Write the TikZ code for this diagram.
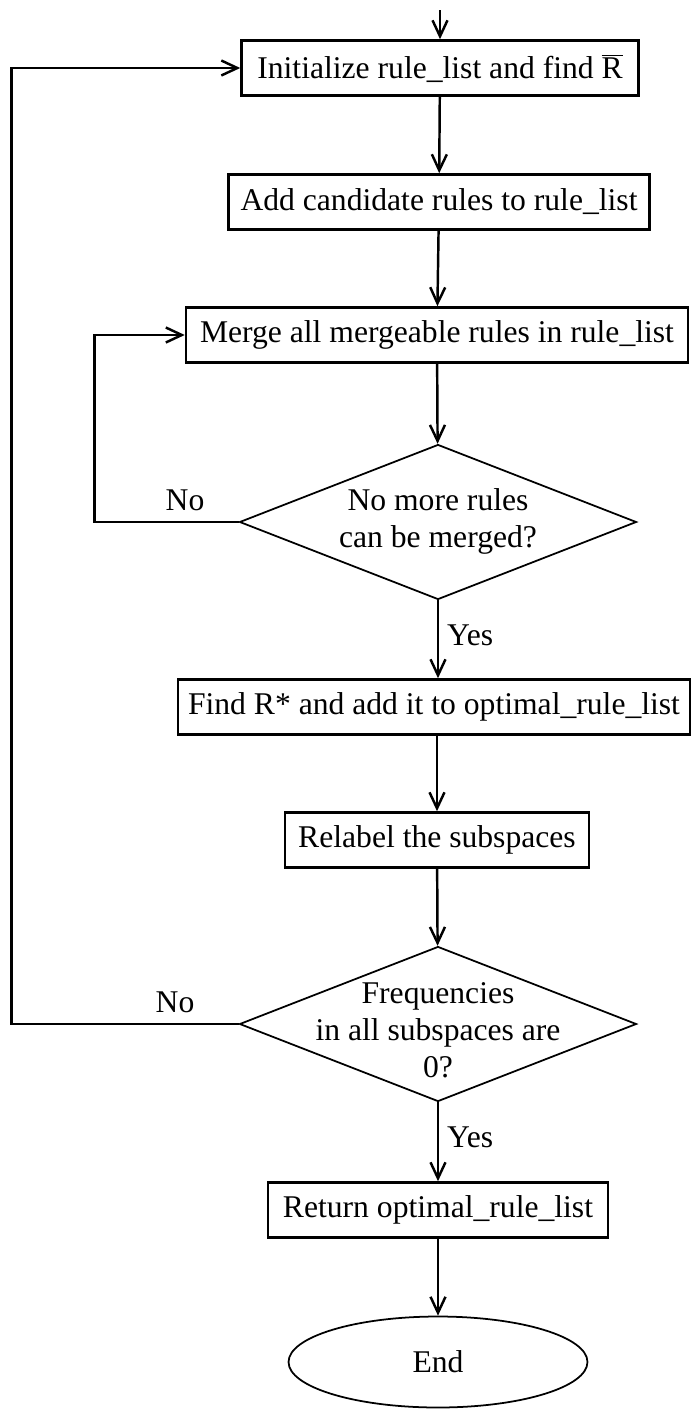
\documentclass[tikz,border=0pt]{standalone}
\usepackage{fontspec}
\setmainfont{Liberation Serif}
\usetikzlibrary{shapes.geometric,arrows.meta}

\begin{document}
\begin{tikzpicture}[x=0.02cm,y=-0.02cm,
		font=\fontsize{18}{21}\selectfont,
		>={Straight Barb[length=3.2mm,width=3mm]},
		process/.style={draw,line width=1.5pt,inner sep=0pt,minimum height=1.1cm},
		decision/.style={draw,diamond,line width=1pt,inner sep=0pt,minimum width=7.94cm,minimum height=3.1cm},
		terminal/.style={draw,ellipse,line width=1pt,inner sep=0pt,minimum width=5.98cm,minimum height=1.82cm},
		flow/.style={line width=1.4pt,->}]
		\useasboundingbox (0,0) rectangle (692,1410);
		
		\coordinate (start) at (440,10);
		
		\node[process,minimum width=7.94cm] (init) at (440,68) {Initialize rule\_list and find $\overline{\mbox{R}}$};
		\node[process,minimum width=8.42cm] (add) at (439,202) {Add candidate rules to rule\_list};
		\node[process,minimum width=10.04cm] (merge) at (437,335) {Merge all mergeable rules in rule\_list};
		
		\node[decision] (q1) at (438,522) {};
		\node[align=center] (q1txt) at (438,521) {No more rules\\can be merged?};
		
		\node[process,minimum width=10.24cm] (best) at (434,707) {Find R* and add it to optimal\_rule\_list};
		\node[process,minimum width=6.08cm] (relabel) at (437,840) {Relabel the subspaces};
		
		\node[decision] (q2) at (438,1024) {};
		\node[align=center] (q2txt) at (438,1030) {Frequencies\\in all subspaces are\\0?};
		
		\node[process,minimum width=6.8cm] (ret) at (438,1210) {Return optimal\_rule\_list};
		\node[terminal] (end) at (438,1362) {End};
		
		\draw[flow] (start) -- (init);
		\draw[flow] (init) -- (add);
		\draw[flow] (add) -- (merge);
		\draw[flow] (merge) -- (q1);
		\draw[flow] (q1.south) -- (q1.south |- best.north);
		\draw[flow] (best.south -| relabel) -- (relabel);
		\draw[flow] (relabel) -- (q2);
		\draw[flow] (q2) -- (ret);
		\draw[flow] (ret) -- (end);
		
		% loops back
		\draw[flow] (q1.west) -- ++(-144,0) |- (merge.west);
		\draw[flow] (q2.west) -- ++(-227,0) |- (init.west);
		
		\node (no1) at (185,500) {No};
		\node (no2) at (175,1002) {No};
		\node[anchor=west] (yes1) at (441,635) {Yes};
		\node[anchor=west] (yes2) at (441,1137) {Yes};
	\end{tikzpicture}
\end{document}
